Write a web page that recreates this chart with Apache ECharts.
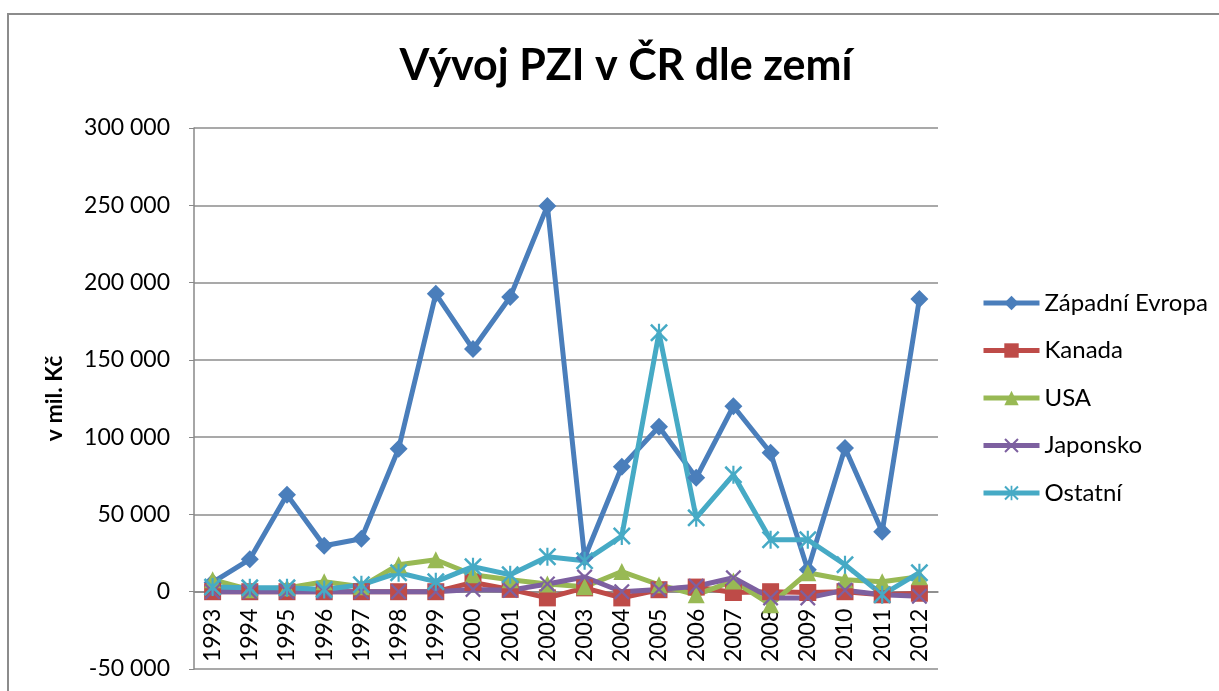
<!DOCTYPE html>
<html>
<head>
<meta charset="utf-8">
<script src="https://cdn.jsdelivr.net/npm/echarts@6/dist/echarts.min.js"></script>
<style>
  html, body { margin: 0; padding: 0; background: #fff; }
  #chart { width: 1219px; height: 691px; }
</style>
</head>
<body>
<div id="chart"></div>
<script>
// Years on the category axis
var years = ['1993','1994','1995','1996','1997','1998','1999','2000','2001','2002',
             '2003','2004','2005','2006','2007','2008','2009','2010','2011','2012'];

// Values in mil. Kč
var zapadniEvropa = [6000, 21000, 62700, 29700, 34300, 92500, 192700, 157000, 190700, 249600,
                     22000, 80800, 106700, 73700, 120000, 89900, 14200, 93000, 38800, 189400];
var kanada = [0, 0, 0, 0, 0, 0, 0, 6000, 1500, -4000,
              2500, -4000, 1300, 3000, -500, 0, -500, 0, -2000, -1000];
var usa = [7800, 1300, 2500, 6500, 3200, 17500, 20700, 11000, 7700, 5000,
           3200, 13000, 4500, -2000, 7000, -8400, 12300, 7700, 6500, 9700];
var japonsko = [0, 0, 0, 0, 0, 0, 0, 1500, 1000, 5000,
                9500, 0, 1500, 3500, 9000, -4000, -4000, 1000, -2000, -3000];
var ostatni = [3000, 2500, 2500, 1500, 4500, 12300, 6500, 16200, 11000, 22600,
               20000, 36000, 167500, 47800, 75600, 33600, 33600, 17500, -2000, 12300];

var font = 'Lato, "Open Sans", sans-serif';

// marker shapes
var crossPath = 'path://M0,1 L1,0 L5,4 L9,0 L10,1 L6,5 L10,9 L9,10 L5,6 L1,10 L0,9 L4,5 Z';
var starPath = 'path://M0,1 L1,0 L10,9 L9,10 Z M9,0 L10,1 L1,10 L0,9 Z M4.4,0 L5.6,0 L5.6,10 L4.4,10 Z';

function fmt(v) {
  var s = String(Math.abs(v)).replace(/\B(?=(\d{3})+(?!\d))/g, ' ');
  return (v < 0 ? '-' : '') + s;
}

function mkSeries(name, data, color, symbol, size) {
  return {
    name: name,
    type: 'line',
    data: data,
    symbol: symbol,
    symbolSize: size,
    showAllSymbol: true,
    color: color,
    lineStyle: { width: 5, color: color },
    itemStyle: { color: color },
    emphasis: { disabled: true }
  };
}

var chart = echarts.init(document.getElementById('chart'));

var option = {
  animation: false,
  textStyle: { fontFamily: font },
  title: {
    text: 'Vývoj PZI v ČR dle zemí',
    left: 621,
    textAlign: 'center',
    top: 40,
    textStyle: { fontFamily: font, fontSize: 43, fontWeight: 'bold', color: '#000' }
  },
  graphic: [{
    type: 'rect',
    shape: { x: 8, y: 14, width: 1240, height: 720 },
    style: { fill: 'none', stroke: '#8c8c8c', lineWidth: 2 },
    silent: true
  }],
  legend: {
    orient: 'vertical',
    left: 976,
    top: 286,
    itemGap: 23.5,
    itemWidth: 56,
    itemHeight: 18,
    lineStyle: { width: 5 },
    textStyle: { fontFamily: font, fontSize: 24, color: '#000' },
    data: ['Západní Evropa', 'Kanada', 'USA', 'Japonsko', 'Ostatní']
  },
  grid: { left: 194, top: 128, right: 281, bottom: 22, containLabel: false, outerBoundsMode: 'none' },
  xAxis: {
    type: 'category',
    data: years,
    boundaryGap: true,
    offset: -77.3,
    axisLine: { onZero: false, lineStyle: { color: '#888', width: 1.5 } },
    axisTick: { show: false },
    axisLabel: { interval: 0, rotate: 90, fontSize: 23, color: '#000', margin: 17, fontFamily: font }
  },
  yAxis: {
    type: 'value',
    min: -50000,
    max: 300000,
    interval: 50000,
    name: 'v mil. Kč',
    nameLocation: 'middle',
    nameGap: 128,
    nameTextStyle: { fontFamily: font, fontSize: 23, fontWeight: 'bold', color: '#000' },
    axisLine: { show: true, lineStyle: { color: '#888', width: 1.5 } },
    axisTick: { show: true, length: 5, lineStyle: { color: '#888' } },
    axisLabel: { fontSize: 23, color: '#000', margin: 24, formatter: fmt, fontFamily: font },
    splitLine: { lineStyle: { color: '#8c8c8c', width: 1.5 } }
  },
  series: [
    mkSeries('Západní Evropa', zapadniEvropa, '#4a7ebb', 'diamond', 18),
    mkSeries('Kanada', kanada, '#be4b48', 'rect', 17),
    mkSeries('USA', usa, '#98b954', 'triangle', 17),
    mkSeries('Japonsko', japonsko, '#7d60a0', crossPath, 16),
    mkSeries('Ostatní', ostatni, '#46aac5', starPath, 18)
  ]
};

chart.setOption(option);
</script>
</body>
</html>
